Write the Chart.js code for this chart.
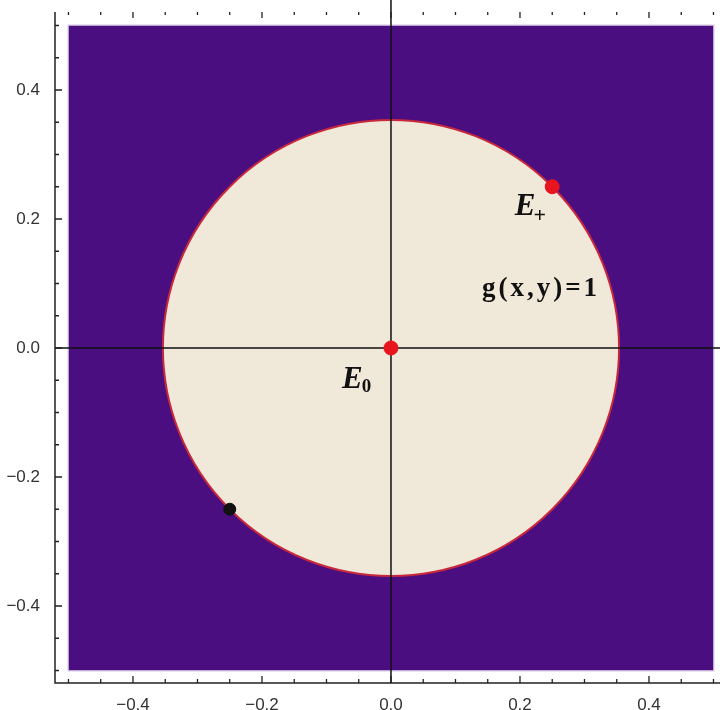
<!DOCTYPE html>
<html>
<head>
<meta charset="utf-8">
<script src="https://cdn.jsdelivr.net/npm/chart.js@4"></script>
<style>
  body { margin: 0; background: #ffffff; }
  canvas { display: block; }
</style>
</head>
<body>
<canvas id="grafico" width="720" height="710"></canvas>
<script>
// region and shape values
var regionX = [-0.5, 0.5];
var regionY = [-0.5, 0.5];
var circleRadius = 0.3536;

// points
var redX = [0, 0.25];
var redY = [0, 0.25];
var blackX = [-0.25];
var blackY = [-0.25];

// tick labels
var tickLabels = [-0.4, -0.2, 0.0, 0.2, 0.4];

var purple = '#4a0e80';
var cream = '#f0e8d8';

function pares(xs, ys) {
    var out = [];
    for (var i = 0; i < xs.length; i++) out.push({ x: xs[i], y: ys[i] });
    return out;
}

// fundo roxo, circulo e eixos
var fundo = {
    id: 'fundo',
    beforeDatasetsDraw: function (chart) {
        var ctx = chart.ctx, sx = chart.scales.x, sy = chart.scales.y;
        var x0 = sx.getPixelForValue(regionX[0]), x1 = sx.getPixelForValue(regionX[1]);
        var y0 = sy.getPixelForValue(regionY[1]), y1 = sy.getPixelForValue(regionY[0]);
        ctx.save();
        ctx.fillStyle = purple;
        ctx.fillRect(x0, y0, x1 - x0, y1 - y0);
        ctx.strokeStyle = '#d9c8e6';
        ctx.lineWidth = 1;
        ctx.strokeRect(x0 - 0.5, y0 - 0.5, x1 - x0 + 1, y1 - y0 + 1);

        var cx = sx.getPixelForValue(0), cy = sy.getPixelForValue(0);
        var r = sx.getPixelForValue(circleRadius) - cx;
        ctx.beginPath();
        ctx.arc(cx, cy, r, 0, Math.PI * 2);
        ctx.fillStyle = cream;
        ctx.fill();
        ctx.strokeStyle = '#c8283c';
        ctx.lineWidth = 2;
        ctx.stroke();

        // eixos pela origem
        ctx.strokeStyle = '#111';
        ctx.lineWidth = 1.5;
        ctx.beginPath();
        ctx.moveTo(cx, 0);
        ctx.lineTo(cx, chart.chartArea.bottom);
        ctx.moveTo(chart.chartArea.left, cy);
        ctx.lineTo(chart.width, cy);
        ctx.stroke();
        ctx.restore();
    },
    afterDraw: function (chart) {
        var ctx = chart.ctx, sx = chart.scales.x, sy = chart.scales.y, a = chart.chartArea;
        ctx.save();
        ctx.strokeStyle = '#222';
        ctx.lineWidth = 1.5;
        ctx.beginPath();
        ctx.moveTo(a.left, a.top);
        ctx.lineTo(a.left, a.bottom);
        ctx.lineTo(chart.width, a.bottom);
        ctx.stroke();

        ctx.lineWidth = 1.3;
        ctx.beginPath();
        for (var k = -10; k <= 10; k++) {
            var v = k * 0.05;
            var len = (k % 4 === 0) ? 7 : 4;
            var px = sx.getPixelForValue(v);
            var py = sy.getPixelForValue(v);
            // baixo
            ctx.moveTo(px, a.bottom);
            ctx.lineTo(px, a.bottom - len);
            // topo
            ctx.moveTo(px, a.top);
            ctx.lineTo(px, a.top + len - 1);
            // esquerda
            ctx.moveTo(a.left, py);
            ctx.lineTo(a.left + len, py);
        }
        ctx.stroke();

        // textos
        ctx.fillStyle = '#111';
        ctx.textBaseline = 'alphabetic';
        var ex = sx.getPixelForValue(-0.076), ey = sy.getPixelForValue(-0.062);
        ctx.font = 'italic bold 31px "Liberation Serif"';
        ctx.fillText('E', ex, ey);
        var w = ctx.measureText('E').width;
        ctx.font = 'bold 19px "Liberation Serif"';
        ctx.fillText('0', ex + w - 1, ey + 4);

        ex = sx.getPixelForValue(0.192); ey = sy.getPixelForValue(0.206);
        ctx.font = 'italic bold 31px "Liberation Serif"';
        ctx.fillText('E', ex, ey);
        w = ctx.measureText('E').width;
        ctx.font = 'bold 22px "Liberation Serif"';
        ctx.fillText('+', ex + w - 2, ey + 7);

        ctx.font = 'bold 27px "Liberation Serif"';
        ctx.letterSpacing = '3px';
        ctx.fillText('g(x,y)=1', sx.getPixelForValue(0.141), sy.getPixelForValue(0.081));
        ctx.restore();
    }
};

function soRotulos(scale) {
    scale.ticks = tickLabels.map(function (v) { return { value: v }; });
}

function rotulo(v) {
    var s = Math.abs(v).toFixed(1);
    return v < -1e-9 ? '\u2212' + s : s;
}

new Chart(document.getElementById('grafico'), {
    type: 'scatter',
    data: {
        datasets: [{
            data: pares(redX, redY),
            backgroundColor: '#e8141e',
            borderColor: '#e8141e',
            pointRadius: 7,
            pointHoverRadius: 7
        }, {
            data: pares(blackX, blackY),
            backgroundColor: '#111',
            borderColor: '#111',
            pointRadius: 6,
            pointHoverRadius: 6
        }]
    },
    options: {
        responsive: false,
        animation: false,
        events: [],
        layout: { autoPadding: false, padding: { top: 12, right: 0, left: 0, bottom: 0 } },
        plugins: { legend: { display: false }, tooltip: { enabled: false } },
        scales: {
            x: {
                type: 'linear',
                min: -0.5209,
                max: 0.5101,
                afterBuildTicks: soRotulos,
                afterFit: function (s) {
                    s.height = 27;
                    s.paddingLeft = 0; s.paddingRight = 0;
                },
                grid: { display: false },
                border: { display: false },
                ticks: {
                    padding: 4,
                    color: '#333',
                    font: { family: 'Liberation Sans', size: 17 },
                    maxRotation: 0,
                    autoSkip: false,
                    callback: rotulo
                }
            },
            y: {
                type: 'linear',
                min: -0.5194,
                max: 0.5209,
                afterBuildTicks: soRotulos,
                afterFit: function (s) {
                    s.width = 55;
                    s.paddingTop = 0; s.paddingBottom = 0;
                },
                grid: { display: false },
                border: { display: false },
                ticks: {
                    padding: 7,
                    color: '#333',
                    font: { family: 'Liberation Sans', size: 17 },
                    autoSkip: false,
                    callback: rotulo
                }
            }
        }
    },
    plugins: [fundo]
});
</script>
</body>
</html>
